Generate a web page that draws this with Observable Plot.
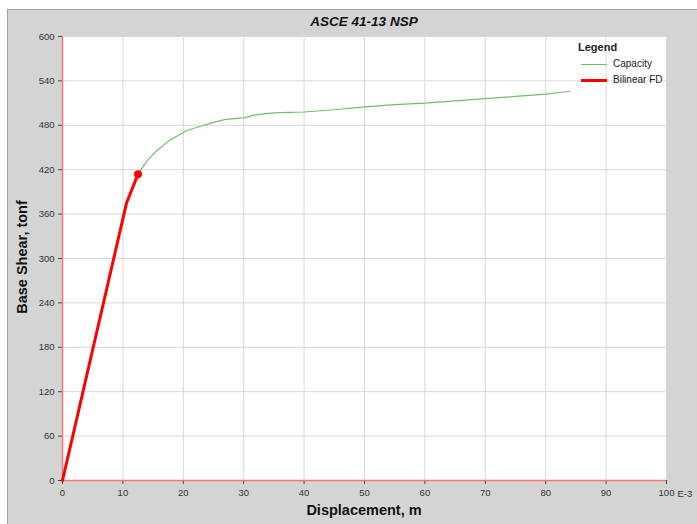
<!DOCTYPE html>
<html><head><meta charset="utf-8">
<script src="https://cdn.jsdelivr.net/npm/d3@7"></script>
<script src="https://cdn.jsdelivr.net/npm/@observablehq/plot@0.6"></script>
<style>
body{margin:0;background:#fff;font-family:"Liberation Sans",Arial,sans-serif;}
#wrap{position:relative;width:697px;height:524px;overflow:hidden;}
#bg{position:absolute;left:7px;top:9px;right:0;bottom:0;background:#d4d4d4;border-top:1px solid #a0a0a0;border-left:1px solid #a0a0a0;}
#chart{position:absolute;left:0;top:0;}
.t{position:absolute;white-space:nowrap;color:#111;line-height:1;}
#legend{position:absolute;left:574px;top:37px;font-size:10px;font-family:"Liberation Sans Narrow","Liberation Sans",sans-serif;color:#222;}
#legend div{position:absolute;white-space:nowrap;line-height:1;}
</style></head><body>
<div id="wrap"><div id="bg"></div><div id="chart"></div>
<div class="t" style="left:0;width:728px;top:14px;text-align:center;font:italic bold 13.5px 'Liberation Sans Narrow','Liberation Sans',sans-serif;">ASCE 41-13 NSP</div>
<div class="t" style="left:0;width:728px;top:502px;text-align:center;font:bold 14.5px 'Liberation Sans',sans-serif;">Displacement, m</div>
<div class="t" style="left:22px;top:257px;transform:translate(-50%,-50%) rotate(-90deg);font:bold 14.5px 'Liberation Sans',sans-serif;">Base Shear, tonf</div>
<div id="legend">
 <div style="left:4px;top:4px;font:bold 11px 'Liberation Sans',sans-serif;">Legend</div>
 <div style="left:7px;top:27px;width:26px;height:1px;background:#6dbf6d;"></div>
 <div style="left:39px;top:22px;">Capacity</div>
 <div style="left:7px;top:42px;width:26px;height:3px;background:#ff0000;"></div>
 <div style="left:39px;top:38px;">Bilinear FD</div>
</div>
</div>
<script>
// Capacity curve (displacement in E-3 m, base shear in tonf)
const capX = [0, 10.6, 12.5, 13.9, 15.5, 17.6, 20.6, 23, 25, 27, 30, 32, 34, 36, 40, 45, 50, 55, 60, 65, 70, 75, 80, 84];
const capY = [0, 375, 414, 431, 445, 459, 473, 479, 484, 488, 490, 494, 496, 497, 498, 501, 505, 508, 510, 513, 516, 519, 522, 526];
// Bilinear force-displacement
const bilX = [0, 10.6, 12.5];
const bilY = [0, 375, 414];
const xTicks = [0,10,20,30,40,50,60,70,80,90,100];
const yTicks = [0,60,120,180,240,300,360,420,480,540,600];

const cap = capX.map((x,i)=>({x, y:capY[i]}));
const bil = bilX.map((x,i)=>({x, y:bilY[i]}));
const font = "'Liberation Sans Narrow','Liberation Sans',sans-serif";

const chart = Plot.plot({
  width: 697, height: 524,
  marginLeft: 62, marginRight: 31, marginTop: 36, marginBottom: 44,
  style: {background: "transparent", fontFamily: font, fontSize: "9.5px", color: "#222"},
  x: {domain: [0,100]},
  y: {domain: [0,600]},
  marks: [
    Plot.frame({fill: "white", stroke: "none"}),
    Plot.gridX(xTicks, {stroke: "#d8d8d8", strokeOpacity: 1}),
    Plot.gridY(yTicks, {stroke: "#d8d8d8", strokeOpacity: 1}),
    Plot.axisX(xTicks, {tickSize: 4, tickPadding: 5, label: null, stroke: "#444", fill: "#333"}),
    Plot.axisY(yTicks, {tickSize: 4, tickPadding: 4, label: null, stroke: "#444", fill: "#333"}),
    Plot.text([100], {x: d=>d, y: 0, text: ()=>"E-3", dx: 11, dy: 13, textAnchor: "start", fill: "#333"}),
    Plot.ruleX([0], {stroke: "#f07878", strokeWidth: 1.5}),
    Plot.ruleY([0], {stroke: "#f07878", strokeWidth: 1.5}),
    Plot.line(cap, {x: "x", y: "y", stroke: "#6dbf6d", strokeWidth: 1.2}),
    Plot.line(bil, {x: "x", y: "y", stroke: "#ff0000", strokeWidth: 3}),
    Plot.dot(bil.slice(-1), {x: "x", y: "y", r: 4, fill: "#ff0000", stroke: "none"})
  ]
});
document.getElementById("chart").appendChild(chart);
</script>
</body></html>
